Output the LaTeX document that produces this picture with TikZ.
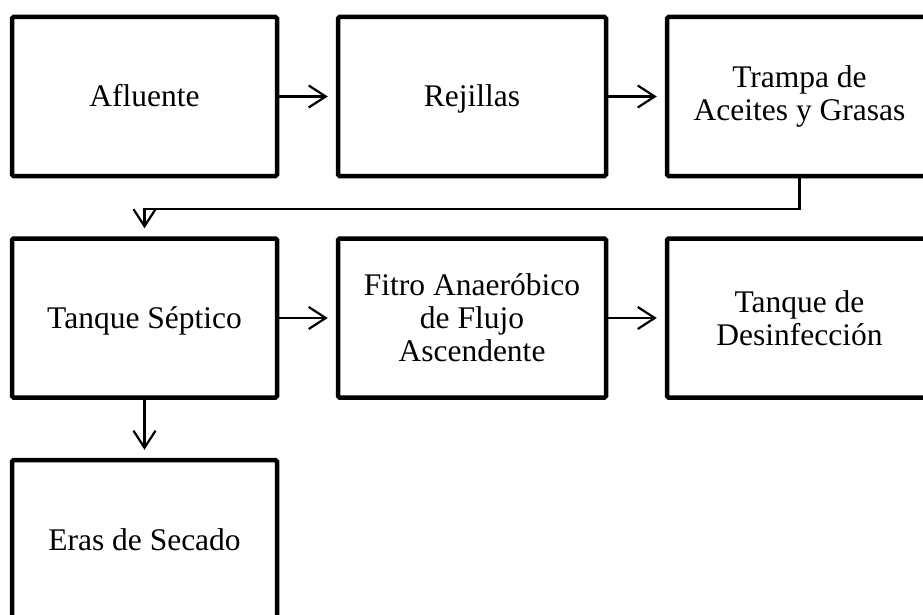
\documentclass[tikz,border=0pt]{standalone}
\usepackage{fontspec}
\setmainfont{Liberation Serif}
\usetikzlibrary{positioning}
\usetikzlibrary{arrows.meta}

\begin{document}
\begin{tikzpicture}[x=1pt, y=-1pt,
    caja/.style={draw, rectangle, line width=4.5pt, rounded corners=1.5pt, align=center,
      minimum width=265pt, minimum height=159pt, inner sep=0pt,
      font=\fontsize{31.5}{33}\selectfont},
    linea/.style={text height=22pt, text depth=1pt},
    flecha/.style={line width=2.2pt, shorten >=8pt,
      -{Straight Barb[length=17pt, width=22pt]}}]
            \useasboundingbox (0,0) rectangle (923,615);
            \node[caja, linea] (afluente) at (144.5,96.5) {Afluente};
            \node[caja, linea, minimum width=268pt] (rejillas) at (472,96.5) {Rejillas};
            \node[caja] (trampa) at (799.5,96.5) {Trampa de\\Aceites y Grasas};
            \node[caja, linea] (tanque) at (144.5,318) {Tanque Séptico};
            \node[caja, minimum width=268pt] (filtro) at (472,318) {Fitro Anaeróbico\\de Flujo\\Ascendente};
            \node[caja] (desinf) at (799.5,318) {Tanque de\\Desinfección};
            \node[caja, linea] (eras) at (144.5,539.5) {Eras de Secado};

            \draw[flecha] (afluente) -- (rejillas);
            \draw[flecha] (rejillas) -- (trampa);
            \draw[flecha] (trampa.south) -- ++(0,31) -| (tanque.north);
            \draw[flecha] (tanque) -- (filtro);
            \draw[flecha] (filtro) -- (desinf);
            \draw[flecha] (tanque) -- (eras);
        \end{tikzpicture}
\end{document}
